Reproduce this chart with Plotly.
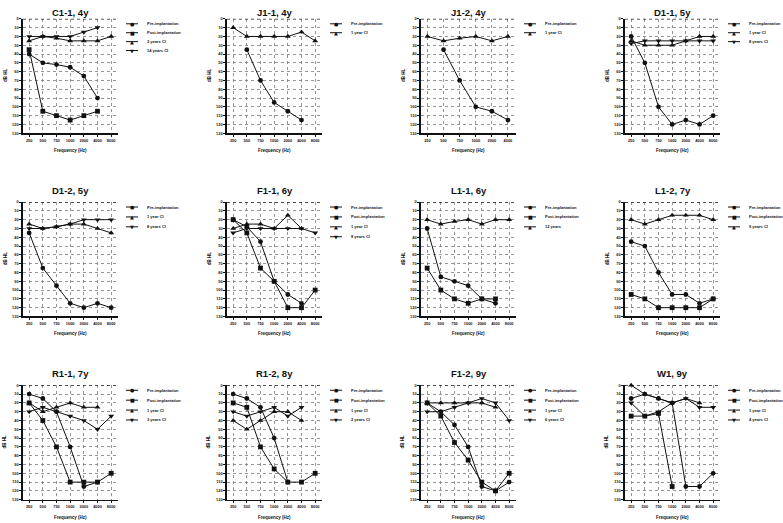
import plotly.graph_objects as go

W, H = 783, 523

FREQ7 = ["250", "500", "750", "1000", "2000", "4000", "8000"]
FREQ6 = ["250", "500", "750", "1000", "2000", "4000"]
Y_TICKS = list(range(0, 131, 10))

# ---- data (dB HL) ----
c11_pre = [40, 50, 52, 55, 65, 90, None]
c11_post = [35, 105, 110, 115, 110, 105, None]
c11_ci3 = [25, 20, 22, 25, 25, 25, 20]
c11_ci14 = [20, 20, 20, 20, 15, 10, None]

j11_pre = [None, 35, 70, 95, 105, 115, None]
j11_ci1 = [10, 20, 20, 20, 20, 15, 25]

j12_pre = [None, 35, 70, 100, 105, 115]
j12_ci1 = [20, 25, 22, 20, 25, 20]

d11_pre = [20, 50, 100, 120, 115, 120, 110]
d11_ci1 = [25, 30, 30, 30, 25, 20, 20]
d11_ci8 = [28, 25, 25, 25, 25, 25, 25]

d12_pre = [35, 75, 95, 115, 120, 115, 120]
d12_ci1 = [25, 30, 28, 25, 25, 30, 35]
d12_ci8 = [30, 30, 28, 25, 20, 20, 20]

f11_pre = [20, 28, 45, 90, 105, 115, None]
f11_post = [20, 35, 75, 90, 120, 120, 100]
f11_ci1 = [30, 25, 25, 30, 15, 30, None]
f11_ci8 = [35, 30, 30, 30, 30, 30, 35]

l11_pre = [30, 85, 90, 95, 110, 115, None]
l11_post = [75, 100, 110, 115, 110, 110, None]
l11_y12 = [20, 25, 22, 20, 25, 20, 20]

l12_pre = [45, 50, 80, 105, 105, 115, 110]
l12_post = [105, 110, 120, 120, 120, 120, 110]
l12_ci9 = [20, 25, 20, 15, 15, 15, 20]

r11_pre = [10, 15, 30, 70, 115, 110, None]
r11_post = [20, 40, 70, 110, 110, 110, 100]
r11_ci1 = [20, 30, 25, 20, 25, 25, None]
r11_ci3 = [30, 25, 30, 35, 40, 50, 35]

r12_pre = [10, 15, 25, 60, 110, None, None]
r12_post = [20, 25, 70, 95, 110, 110, 100]
r12_ci1 = [40, 50, 40, 30, 30, 40, None]
r12_ci2 = [30, 35, 30, 25, 35, 25, None]

f12_pre = [20, 30, 45, 70, 115, 120, 110]
f12_post = [20, 35, 65, 85, 110, 120, 100]
f12_ci1 = [20, 20, 20, 20, 20, 25, None]
f12_ci6 = [30, 30, 25, 20, 15, 20, 40]

w1_pre = [15, 10, 15, 20, 115, 115, 100]
w1_post = [35, 35, 32, 115, None, None, None]
w1_ci1 = [0, 10, 15, 20, 15, 20, None]
w1_ci4 = [20, 35, 30, 20, 15, 25, 25]

PRE, POST = "Pre-implantation", "Post-implantation"
panels = [
    ("C1-1, 4y", FREQ7, [(PRE, "circle", c11_pre), (POST, "square", c11_post),
                         ("3 years CI", "triangle-up", c11_ci3), ("14 years CI", "triangle-down", c11_ci14)]),
    ("J1-1, 4y", FREQ7, [(PRE, "circle", j11_pre), ("1 year CI", "triangle-up", j11_ci1)]),
    ("J1-2, 4y", FREQ6, [(PRE, "circle", j12_pre), ("1 year CI", "triangle-up", j12_ci1)]),
    ("D1-1, 5y", FREQ7, [(PRE, "circle", d11_pre), ("1 year CI", "triangle-up", d11_ci1),
                         ("8 years CI", "triangle-down", d11_ci8)]),
    ("D1-2, 5y", FREQ7, [(PRE, "circle", d12_pre), ("1 year CI", "triangle-up", d12_ci1),
                         ("8 years CI", "triangle-down", d12_ci8)]),
    ("F1-1, 6y", FREQ7, [(PRE, "circle", f11_pre), (POST, "square", f11_post),
                         ("1 year CI", "triangle-up", f11_ci1), ("8 years CI", "triangle-down", f11_ci8)]),
    ("L1-1, 6y", FREQ7, [(PRE, "circle", l11_pre), (POST, "square", l11_post),
                         ("12 years", "triangle-up", l11_y12)]),
    ("L1-2, 7y", FREQ7, [(PRE, "circle", l12_pre), (POST, "square", l12_post),
                         ("9 years CI", "triangle-up", l12_ci9)]),
    ("R1-1, 7y", FREQ7, [(PRE, "circle", r11_pre), (POST, "square", r11_post),
                         ("1 year CI", "triangle-up", r11_ci1), ("3 years CI", "triangle-down", r11_ci3)]),
    ("R1-2, 8y", FREQ7, [(PRE, "circle", r12_pre), (POST, "square", r12_post),
                         ("1 year CI", "triangle-up", r12_ci1), ("2 years CI", "triangle-down", r12_ci2)]),
    ("F1-2, 9y", FREQ7, [(PRE, "circle", f12_pre), (POST, "square", f12_post),
                         ("1 year CI", "triangle-up", f12_ci1), ("6 years CI", "triangle-down", f12_ci6)]),
    ("W1, 9y", FREQ7, [(PRE, "circle", w1_pre), (POST, "square", w1_post),
                       ("1 year CI", "triangle-up", w1_ci1), ("4 years CI", "triangle-down", w1_ci4)]),
]

# ---- layout geometry (pixels) ----
COL_LEFT = [23, 227, 421, 625]
PLOT_W = 95
ROW_TOP = [16, 201, 386]
PLOT_H = 115.5
TITLE_Y = [10, 189.5, 374.5]
LEG_STEP = [9, 10, 10]

FONT = "Arial, Liberation Sans, sans-serif"
INK = "#111111"
GRID = "#7a7a7a"
SYM_CHAR = {"circle": "●", "square": "■", "triangle-up": "▲", "triangle-down": "▼"}
MSIZE = {"circle": 4.8, "square": 4.8, "triangle-up": 5.2, "triangle-down": 5.2}


def fx(px):
    return px / W


def fy(py):
    return 1 - py / H


fig = go.Figure()
annotations = []
shapes = []

for i, (title, cats, series) in enumerate(panels):
    r, c = divmod(i, 4)
    n = i + 1
    xa = "x" if n == 1 else f"x{n}"
    ya = "y" if n == 1 else f"y{n}"
    left = COL_LEFT[c]
    top = ROW_TOP[r]
    bottom = top + PLOT_H

    for name, sym, vals in series:
        fig.add_trace(go.Scatter(
            x=cats, y=vals, name=name, mode="lines+markers", xaxis=xa, yaxis=ya,
            line=dict(color=INK, width=1),
            marker=dict(symbol=sym, size=MSIZE[sym], color=INK),
            showlegend=False, cliponaxis=False, connectgaps=False,
        ))

    xr = [-0.45, 6.5] if len(cats) == 7 else [-0.4, 5.5]
    axkey_x = "xaxis" if n == 1 else f"xaxis{n}"
    axkey_y = "yaxis" if n == 1 else f"yaxis{n}"
    fig.layout[axkey_x] = dict(
        domain=[fx(left), fx(left + PLOT_W)], anchor=ya, type="category",
        categoryorder="array", categoryarray=cats, range=xr,
        showline=True, linecolor=INK, linewidth=1.6, ticks="outside", ticklen=2,
        tickwidth=1, tickcolor=INK, showgrid=True, gridcolor=GRID, gridwidth=0.8,
        griddash="dot", zeroline=False,
        tickfont=dict(family=FONT, size=3.9, color=INK, weight="bold"),
        fixedrange=True,
    )
    fig.layout[axkey_y] = dict(
        domain=[fy(bottom), fy(top)], anchor=xa, range=[130, 0],
        tickvals=Y_TICKS, showline=True, linecolor=INK, linewidth=1.6, ticks="outside",
        ticklen=2, tickwidth=1, tickcolor=INK, showgrid=True, gridcolor=GRID,
        gridwidth=0.8, griddash="dot", zeroline=False,
        tickfont=dict(family=FONT, size=3.9, color=INK, weight="bold"),
        fixedrange=True,
    )
    # 0 dB reference line
    shapes.append(dict(type="line", xref=f"{xa} domain", yref=ya, x0=0, x1=1, y0=0, y1=0,
                       line=dict(color=INK, width=1.3, dash="dot"), layer="above"))

    # panel title
    annotations.append(dict(text=f"<b>{title}</b>", x=fx(left + PLOT_W / 2), y=fy(TITLE_Y[r]),
                            xref="paper", yref="paper", showarrow=False,
                            font=dict(family=FONT, size=9.5, color=INK),
                            xanchor="center", yanchor="middle"))
    # axis titles
    annotations.append(dict(text="<b>Frequency (Hz)</b>", x=fx(left + PLOT_W / 2), y=fy(bottom + 17.5),
                            xref="paper", yref="paper", showarrow=False,
                            font=dict(family=FONT, size=4.5, color=INK),
                            xanchor="center", yanchor="middle"))
    annotations.append(dict(text="<b>dB HL</b>", x=fx(left - 18), y=fy(top + PLOT_H / 2),
                            xref="paper", yref="paper", showarrow=False, textangle=-90,
                            font=dict(family=FONT, size=4.5, color=INK),
                            xanchor="center", yanchor="middle"))
    # legend
    for k, (name, sym, _) in enumerate(series):
        ly = top + 5 + k * LEG_STEP[r]
        shapes.append(dict(type="line", xref="paper", yref="paper",
                           x0=fx(left + 103), x1=fx(left + 115), y0=fy(ly), y1=fy(ly),
                           line=dict(color=INK, width=1)))
        annotations.append(dict(text=SYM_CHAR[sym], x=fx(left + 109), y=fy(ly),
                                xref="paper", yref="paper", showarrow=False,
                                font=dict(family="DejaVu Sans", size=5, color=INK),
                                xanchor="center", yanchor="middle"))
        annotations.append(dict(text=f"<b>{name}</b>", x=fx(left + 121.5), y=fy(ly),
                                xref="paper", yref="paper", showarrow=False,
                                font=dict(family=FONT, size=4.0, color=INK),
                                xanchor="left", yanchor="middle"))

fig.update_layout(
    width=W, height=H, margin=dict(l=0, r=0, t=0, b=0),
    paper_bgcolor="white", plot_bgcolor="white",
    annotations=annotations, shapes=shapes, showlegend=False,
)

fig.write_html(
    "out.html",
    config={"displayModeBar": False, "staticPlot": True},
    post_script="document.body.style.margin='0';document.body.style.overflow='hidden';",
)
